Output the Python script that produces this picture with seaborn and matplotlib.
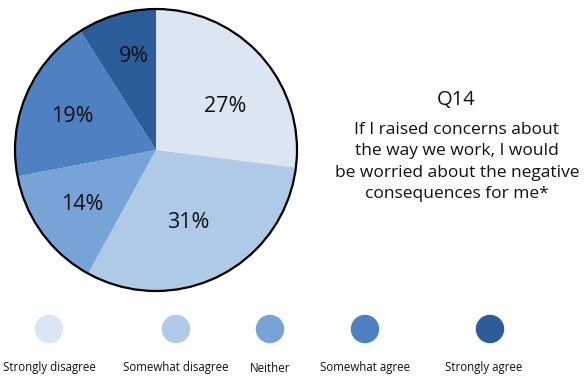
import matplotlib
matplotlib.use("Agg")
import matplotlib.pyplot as plt
import seaborn as sns
import pandas as pd
from matplotlib.patches import Circle

# Survey responses for Q14
categories = ["Strongly disagree", "Somewhat disagree", "Neither",
              "Somewhat agree", "Strongly agree"]
shares = [27, 31, 14, 19, 9]
colors = ["#DCE6F2", "#AFCAE7", "#77A3D6", "#4E80C2", "#2C5D9A"]
question = "Q14"
statement = ("If I raised concerns about\nthe way we work, I would\n"
             "be worried about the negative\nconsequences for me*")

sns.set_theme(style="white")
plt.rcParams["font.family"] = ["Open Sans", "DejaVu Sans"]

W, H = 588, 380
fig = plt.figure(figsize=(W / 100, H / 100), dpi=100)
ax = fig.add_axes([0, 0, 1, 1])

# Pie in pixel-like coordinates (y up)
cx, cy, r = 156, H - 150, 141
wedges, _, autotexts = ax.pie(
    shares, colors=colors, startangle=90, counterclock=False,
    center=(cx, cy), radius=r, frame=True,
    autopct=lambda p: f"{p:.0f}%", pctdistance=0.62,
    wedgeprops=dict(linewidth=0),
    textprops=dict(fontsize=15.5, color="#111111"))
ax.add_patch(Circle((cx, cy), r, fill=False, edgecolor="black", linewidth=1.6))

# Percentage labels sit a little off the wedge bisectors
label_xy = [(225, 107), (188, 223), (82, 205), (72, 117), (134, 57)]
for t, (lx, ly) in zip(autotexts, label_xy):
    t.set_position((lx, H - ly))

# Question text on the right
ax.text(456, H - 100, question, ha="center", va="center", fontsize=14.5,
        color="#111111")
ax.text(457, H - 162, statement, ha="center", va="center", fontsize=12.5,
        linespacing=1.42, color="#111111")

# Legend row of coloured dots
legend_df = pd.DataFrame({"category": categories,
                          "x": [49, 176, 270, 365, 490],
                          "y": [H - 329] * 5})
sns.scatterplot(data=legend_df, x="x", y="y", hue="category",
                palette=dict(zip(categories, colors)), s=420,
                linewidth=0, legend=False, ax=ax)
for x, lab in zip([49, 176, 270, 365, 484], categories):
    ax.text(x, H - 368, lab, ha="center", va="center", fontsize=8.3,
            color="#111111")

ax.set_xlim(0, W)
ax.set_ylim(0, H)
ax.set_aspect("equal")
ax.axis("off")
fig.savefig("out.png", dpi=100)
